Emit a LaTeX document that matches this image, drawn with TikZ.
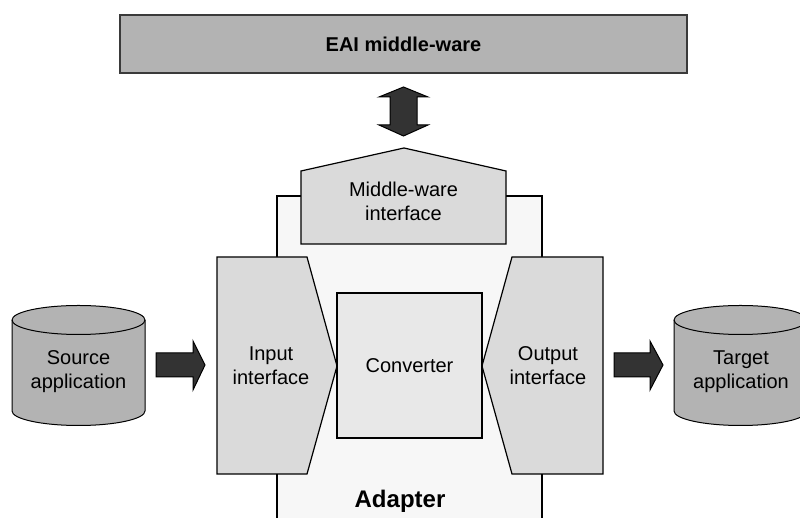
\documentclass[tikz,border=0pt]{standalone}
\usepackage{fontspec}
\setmainfont{Liberation Sans}
\definecolor{eaifill}{HTML}{B3B3B3}
\definecolor{eaiborder}{HTML}{3A3A3A}
\definecolor{cylfill}{HTML}{B3B3B3}
\definecolor{iffill}{HTML}{DADADA}
\definecolor{convfill}{HTML}{E8E8E8}
\definecolor{adfill}{HTML}{F7F7F7}
\definecolor{arrfill}{HTML}{333333}
\begin{document}
\begin{tikzpicture}[x=1pt,y=1pt,
  shapeline/.style={draw=black,line width=1.2pt,line join=miter},
  blockarrow/.style={fill=arrfill,draw=black,line width=1pt},
  lbl/.style={font=\fontsize{20}{24}\selectfont,align=center,inner sep=0pt},
  blbl/.style={font=\fontsize{20}{24}\selectfont\bfseries,align=center,inner sep=0pt}]
\path[use as bounding box,clip] (0,0) rectangle (800,518);
\fill[white] (0,0) rectangle (800,518);
% EAI middle-ware
\draw[fill=eaifill,draw=eaiborder,line width=2pt] (120,445) rectangle (687,503);
\node[blbl] (eai) at (403.5,474) {EAI middle-ware};
% double arrow
\draw[blockarrow] (403.5,431) -- (428,421) -- (417,421) -- (417,393) -- (428,393)
  -- (403.5,382) -- (379,393) -- (390,393) -- (390,421) -- (379,421) -- cycle;
% Adapter box
\draw[shapeline,fill=adfill] (277,-12) rectangle (542,322);
\node[font=\fontsize{24}{28}\selectfont\bfseries,inner sep=0pt] (adapter) at (400,17) {Adapter};
% middle-ware interface
\draw[shapeline,fill=iffill] (301,274) -- (301,347) -- (404,370) -- (506,347) -- (506,274) -- cycle;
\node[lbl] (mwi) at (403.5,317) {Middle-ware\\interface};
% input interface
\draw[shapeline,fill=iffill] (217,44) -- (217,261) -- (307,261) -- (337,152) -- (307,44) -- cycle;
\node[lbl] (inif) at (271,152) {Input\\interface};
% output interface
\draw[shapeline,fill=iffill] (603,44) -- (603,261) -- (512,261) -- (482,152) -- (512,44) -- cycle;
\node[lbl] (outif) at (548,152) {Output\\interface};
% converter
\draw[shapeline,fill=convfill] (337,80) rectangle (482,225);
\node[lbl] (conv) at (409.5,152) {Converter};
% source cylinder
\draw[shapeline,fill=cylfill,line width=1pt] (12,198) -- (12,107) arc[start angle=180,end angle=360,x radius=66.5pt,y radius=14.5pt] -- (145,198) arc[start angle=0,end angle=180,x radius=66.5pt,y radius=14.5pt] -- cycle;
\draw[line width=1pt] (12,198) arc[start angle=180,end angle=360,x radius=66.5pt,y radius=14.5pt];
\node[lbl] (src) at (78.5,146) {Source\\application};
% target cylinder
\draw[shapeline,fill=cylfill,line width=1pt] (674,198) -- (674,107) arc[start angle=180,end angle=360,x radius=66.5pt,y radius=14.5pt] -- (807,198) arc[start angle=0,end angle=180,x radius=66.5pt,y radius=14.5pt] -- cycle;
\draw[line width=1pt] (674,198) arc[start angle=180,end angle=360,x radius=66.5pt,y radius=14.5pt];
\node[lbl] (tgt) at (741,146) {Target\\application};
% block arrows
\draw[blockarrow] (156,141) -- (156,165) -- (193,165) -- (193,177) -- (205,153) -- (193,128) -- (193,141) -- cycle;
\draw[blockarrow] (614,141) -- (614,165) -- (650,165) -- (650,177) -- (663,153) -- (650,128) -- (650,141) -- cycle;
\end{tikzpicture}
\end{document}
